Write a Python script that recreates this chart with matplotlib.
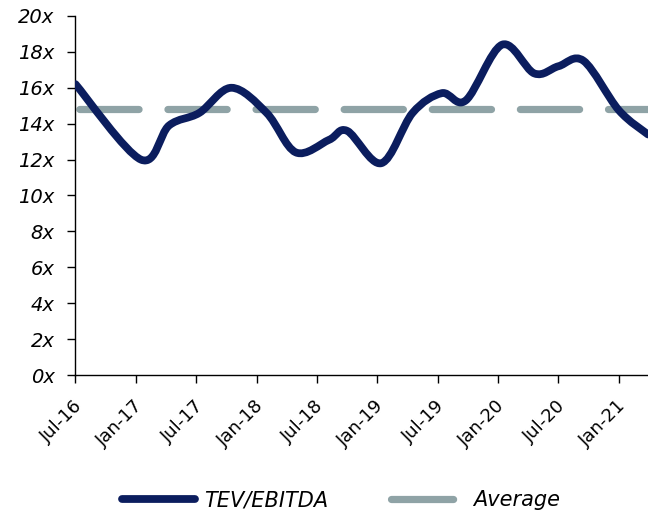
import numpy as np
import matplotlib.pyplot as plt
from matplotlib.path import Path
from matplotlib.patches import PathPatch
from matplotlib.lines import Line2D
from matplotlib.transforms import ScaledTranslation

# meses desde Jul-16 y valor TEV/EBITDA
meses = [0, 6.5, 9.3, 12.3, 15.5, 19.0, 21.9, 25.2, 27.0, 30.4, 33.5, 36.4, 38.8, 42.4, 45.6, 48.0, 50.5, 54.0, 56.9]
tev_ebitda = [16.2, 12.0, 13.9, 14.6, 16.0, 14.6, 12.4, 13.1, 13.6, 11.8, 14.6, 15.7, 15.3, 18.4, 16.8, 17.2, 17.5, 14.75, 13.4]
promedio = 14.8
ticks_meses = [0, 6, 12, 18, 24, 30, 36, 42, 48, 54]
etiquetas = ['Jul-16', 'Jan-17', 'Jul-17', 'Jan-18', 'Jul-18', 'Jan-19', 'Jul-19', 'Jan-20', 'Jul-20', 'Jan-21']

azul = '#0B1D5E'
gris = '#8FA3A6'

plt.rcParams['font.family'] = 'DejaVu Sans'

def curva_suave(x, y, t=1/6.):
    # bezier tipo excel (catmull-rom)
    P = np.column_stack([x, y])
    n = len(P)
    verts = [P[0]]
    codes = [Path.MOVETO]
    for i in range(n - 1):
        p0 = P[i - 1] if i > 0 else P[i]
        p3 = P[i + 2] if i + 2 < n else P[i + 1]
        c1 = P[i] + (P[i + 1] - p0) * t
        c2 = P[i + 1] - (p3 - P[i]) * t
        verts += [c1, c2, P[i + 1]]
        codes += [Path.CURVE4] * 3
    return Path(verts, codes)

fig = plt.figure(figsize=(6.48, 5.15), dpi=100)
ax = fig.add_axes([0.1165, 0.2718, 0.8835, 0.6972])

lw = 5.2
lw_azul = 5.6
estilo = (11.6, (8.2, 4.0))
ax.add_patch(PathPatch(curva_suave(meses, tev_ebitda), fill=False, edgecolor=azul,
                       lw=lw_azul, capstyle='round', joinstyle='round', zorder=3))
ax.plot([0, 56.9], [promedio, promedio], color=gris, lw=lw, linestyle=estilo,
        dash_capstyle='round', zorder=2)

ax.set_xlim(0, 56.9)
ax.set_ylim(0, 20)
ax.set_yticks(np.arange(0, 21, 2))
ax.set_yticklabels([f'{v}x' for v in range(0, 21, 2)], style='italic')
ax.set_xticks(ticks_meses)
ax.set_xticklabels(etiquetas, rotation=45, ha='right', va='center', rotation_mode='anchor', fontsize=13)

for s in ['top', 'right']:
    ax.spines[s].set_visible(False)
for s in ['left', 'bottom']:
    ax.spines[s].set_linewidth(1.0)
ax.tick_params(axis='both', direction='out', length=6, width=1, colors='black')
ax.tick_params(axis='y', pad=9, labelsize=14)
ax.tick_params(axis='x', pad=6)
# desplazar etiquetas del eje x (despues de tick_params)
for lab in ax.get_xticklabels():
    lab.set_transform(lab.get_transform() + ScaledTranslation(0.04, -0.12, fig.dpi_scale_trans))

h1 = Line2D([], [], color=azul, lw=lw_azul, solid_capstyle='round')
h2 = Line2D([], [], color=gris, lw=lw, linestyle=(0, (8.6, 4.0)), dash_capstyle='round')
fig.legend([h1, h2], ['TEV/EBITDA', 'Average'], loc='center', bbox_to_anchor=(341/648, 1-500/515),
           ncol=2, frameon=False, handlelength=3.5, handletextpad=0.45, columnspacing=3.0,
           prop={'size': 15, 'style': 'italic'})

fig.savefig('out.png', dpi=100)
